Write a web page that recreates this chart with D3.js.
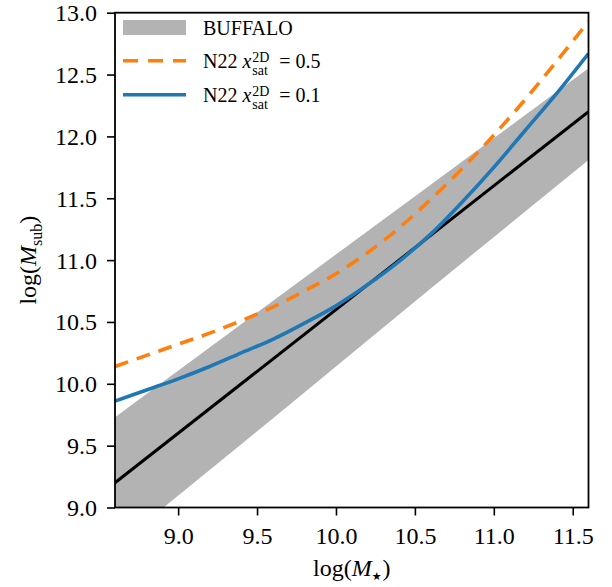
<!DOCTYPE html>
<html>
<head>
<meta charset="utf-8">
<script src="https://cdn.jsdelivr.net/npm/d3@7"></script>
<style>
  html, body { margin: 0; padding: 0; background: #fff; }
  svg { display: block; }
  text { font-family: "Liberation Serif", "Times New Roman", serif; fill: #000; }
</style>
</head>
<body>
<svg id="chart" width="612" height="587"></svg>
<script>
// ---- data ----
const xTicks = [9.0, 9.5, 10.0, 10.5, 11.0, 11.5];
const yTicks = [9.0, 9.5, 10.0, 10.5, 11.0, 11.5, 12.0, 12.5, 13.0];

// BUFFALO band
const bandX     = [8.6, 9.6, 10.6, 11.6];
const bandLower = [8.68, 9.72, 10.77, 11.81];
const bandUpper = [9.73, 10.67, 11.61, 12.55];

// black relation
const fitX = [8.6, 11.6];
const fitY = [9.2, 12.2];

// N22 curves
const curveX = [8.6, 8.8, 9.0, 9.2, 9.4, 9.6, 9.8, 10.0, 10.2, 10.4, 10.6, 10.8, 11.0, 11.2, 11.4, 11.6];
const n22Sat05 = [10.14, 10.23, 10.32, 10.41, 10.51, 10.62, 10.75, 10.89, 11.06, 11.26, 11.49, 11.74, 12.01, 12.30, 12.61, 12.93];
const n22Sat01 = [9.86, 9.95, 10.04, 10.14, 10.25, 10.36, 10.49, 10.63, 10.80, 10.99, 11.21, 11.47, 11.75, 12.05, 12.35, 12.67];

const legendLabels = ["BUFFALO", "N22", "N22"];
const legendValues = ["0.5", "0.1"];

// ---- layout ----
const serif = '"Liberation Serif", "Times New Roman", serif';
const svg = d3.select("#chart");
const pLeft = 115, pRight = 588.5, pTop = 12.7, pBottom = 507.5;

const x = d3.scaleLinear().domain([8.6, 11.6]).range([pLeft, pRight]);
const y = d3.scaleLinear().domain([9.0, 13.0]).range([pBottom, pTop]);

svg.append("defs").append("clipPath").attr("id", "clip")
  .append("rect").attr("x", pLeft).attr("y", pTop)
  .attr("width", pRight - pLeft).attr("height", pBottom - pTop);

const plot = svg.append("g").attr("clip-path", "url(#clip)");

// band
const bandData = bandX.map((v, i) => ({x: v, lo: bandLower[i], hi: bandUpper[i]}));
plot.append("path").datum(bandData)
  .attr("d", d3.area().x(d => x(d.x)).y0(d => y(d.lo)).y1(d => y(d.hi)))
  .attr("fill", "#b3b3b3").attr("stroke", "none");

// black line
plot.append("path").datum(fitX.map((v, i) => [v, fitY[i]]))
  .attr("d", d3.line().x(d => x(d[0])).y(d => y(d[1])))
  .attr("fill", "none").attr("stroke", "#000").attr("stroke-width", 3);

const lineGen = d3.line().x(d => x(d[0])).y(d => y(d[1])).curve(d3.curveCatmullRom.alpha(0.5));

// orange dashed
plot.append("path").datum(curveX.map((v, i) => [v, n22Sat05[i]]))
  .attr("d", lineGen)
  .attr("fill", "none").attr("stroke", "#ff7f0e").attr("stroke-width", 3.6)
  .attr("stroke-dasharray", "14,9");

// blue
plot.append("path").datum(curveX.map((v, i) => [v, n22Sat01[i]]))
  .attr("d", lineGen)
  .attr("fill", "none").attr("stroke", "#1f77b4").attr("stroke-width", 3.6);

// ---- axes ----
const xAxis = svg.append("g").attr("transform", `translate(0,${pBottom})`)
  .call(d3.axisBottom(x).tickValues(xTicks).tickFormat(d3.format(".1f")).tickSize(8).tickSizeOuter(0))
  .attr("font-family", serif).attr("font-size", 24);
xAxis.select(".domain").remove();
xAxis.selectAll(".tick line").attr("stroke", "#000").attr("stroke-width", 1.6);
xAxis.selectAll(".tick text").attr("y", 36).attr("dy", 0).attr("fill", "#000")
  .style("font-family", serif).style("font-size", "24px");

const yAxis = svg.append("g").attr("transform", `translate(${pLeft},0)`)
  .call(d3.axisLeft(y).tickValues(yTicks).tickFormat(d3.format(".1f")).tickSize(8).tickSizeOuter(0))
  .attr("font-family", serif).attr("font-size", 24);
yAxis.select(".domain").remove();
yAxis.selectAll(".tick line").attr("stroke", "#000").attr("stroke-width", 1.6);
yAxis.selectAll(".tick text").attr("x", -18).attr("dy", "0.33em").attr("fill", "#000")
  .style("font-family", serif).style("font-size", "24px");

// spines
svg.append("rect").attr("x", pLeft).attr("y", pTop)
  .attr("width", pRight - pLeft).attr("height", pBottom - pTop)
  .attr("fill", "none").attr("stroke", "#000").attr("stroke-width", 1.8);

// ---- axis labels ----
const xl = svg.append("text").attr("x", (pLeft + pRight) / 2).attr("y", 576)
  .attr("text-anchor", "middle").style("font-size", "24px");
xl.append("tspan").text("log(");
xl.append("tspan").style("font-style", "italic").text("M");
xl.append("tspan").attr("dy", 4).style("font-size", "11px").style("font-family", '"DejaVu Sans", sans-serif').text("\u2605");
xl.append("tspan").attr("dy", -4).attr("dx", 1).text(")");

const yl = svg.append("text").attr("transform", `translate(36,${(pTop + pBottom) / 2}) rotate(-90)`)
  .attr("text-anchor", "middle").style("font-size", "24px");
yl.append("tspan").text("log(");
yl.append("tspan").style("font-style", "italic").text("M");
yl.append("tspan").attr("dy", 6).style("font-size", "16px").text("sub");
yl.append("tspan").attr("dy", -6).text(")");

// ---- legend ----
const lg = svg.append("g");
lg.append("rect").attr("x", 123).attr("y", 20).attr("width", 63).attr("height", 15).attr("fill", "#b3b3b3");
lg.append("text").attr("x", 203).attr("y", 35).style("font-size", "20px").text(legendLabels[0]);

const rows = [
  {y: 60.7, base: 68, color: "#ff7f0e", dash: "15,10", val: legendValues[0], label: legendLabels[1]},
  {y: 94.7, base: 102, color: "#1f77b4", dash: null, val: legendValues[1], label: legendLabels[2]}
];
rows.forEach(r => {
  const ln = lg.append("line").attr("x1", 123).attr("x2", 186).attr("y1", r.y).attr("y2", r.y)
    .attr("stroke", r.color).attr("stroke-width", 3.6);
  if (r.dash) ln.attr("stroke-dasharray", r.dash);
  const t1 = lg.append("text").attr("x", 203).attr("y", r.base).style("font-size", "20px");
  t1.append("tspan").text(r.label + " ");
  t1.append("tspan").style("font-style", "italic").text("x");
  const xEnd = 203 + t1.node().getComputedTextLength() + 1;
  lg.append("text").attr("x", xEnd).attr("y", r.base + 7).style("font-size", "14px").text("sat");
  lg.append("text").attr("x", xEnd).attr("y", r.base - 6.5).style("font-size", "14px").text("2D");
  lg.append("text").attr("x", xEnd + 27).attr("y", r.base).style("font-size", "20px").text("= " + r.val);
});
</script>
</body>
</html>
